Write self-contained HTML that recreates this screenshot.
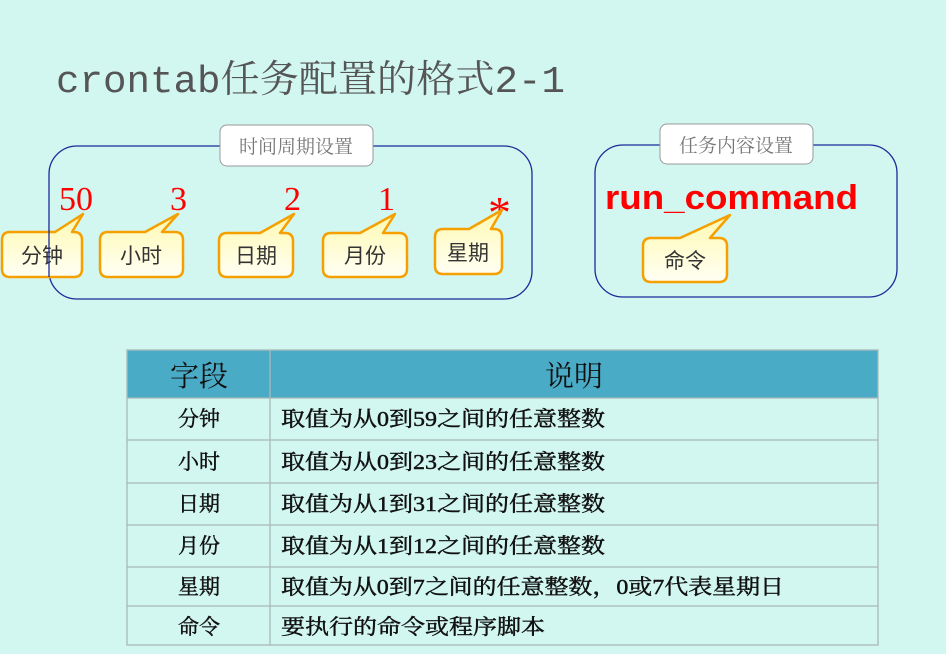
<!DOCTYPE html>
<html><head><meta charset="utf-8"><style>
body{margin:0;width:946px;height:654px;background:#d2f7f0;overflow:hidden;font-family:"Liberation Serif","Noto Serif CJK SC",serif}
svg{position:absolute;left:0;top:0}
</style></head><body>
<svg width="946" height="654" viewBox="0 0 946 654">
<defs><linearGradient id="g" x1="0" y1="0" x2="0" y2="1"><stop offset="0" stop-color="#fff9b0"/><stop offset="1" stop-color="#fffff4"/></linearGradient></defs>
<text x="56" y="92" font-size="38" fill="#555" textLength="509" lengthAdjust="spacingAndGlyphs" font-family="'Liberation Mono','Noto Serif CJK SC',monospace">crontab<tspan font-family="'Noto Serif CJK SC',serif">任务配置的格式</tspan>2-1</text>
<rect x="49" y="146" width="483" height="153" rx="28" fill="none" stroke="#1a2a99" stroke-width="1.3"/>
<rect x="220" y="125" width="153" height="41" rx="7" fill="#fff" stroke="#999"/>
<text x="296" y="153" font-size="19" fill="#777" text-anchor="middle" font-family="'Noto Serif CJK SC',serif">时间周期设置</text>
<rect x="595" y="145" width="302" height="152" rx="28" fill="none" stroke="#1a2a99" stroke-width="1.3"/>
<rect x="660" y="124" width="153" height="40" rx="7" fill="#fff" stroke="#999"/>
<text x="736" y="152" font-size="19" fill="#777" text-anchor="middle" font-family="'Noto Serif CJK SC',serif">任务内容设置</text>
<g fill="#f00" font-size="34">
<text x="59" y="210">50</text><text x="170" y="210">3</text><text x="284" y="210">2</text><text x="378" y="210">1</text><text x="488" y="228" font-size="46">*</text>
</g>
<text x="605" y="209" font-size="34" font-weight="bold" fill="#f00" textLength="253" lengthAdjust="spacingAndGlyphs" font-family="Liberation Sans,sans-serif">run_command</text>
<g stroke="#f5a000" stroke-width="2.5" fill="url(#g)" stroke-linejoin="round">
<path d="M10 232 H55 L83 214 L72 232 H74 Q82 232 82 240 V269 Q82 277 74 277 H10 Q2 277 2 269 V240 Q2 232 10 232Z"/>
<path d="M108 232 H145 L178 214 L162 232 H175 Q183 232 183 240 V269 Q183 277 175 277 H108 Q100 277 100 269 V240 Q100 232 108 232Z"/>
<path d="M227 233 H260 L294 214 L280 233 H285 Q293 233 293 241 V269 Q293 277 285 277 H227 Q219 277 219 269 V241 Q219 233 227 233Z"/>
<path d="M331 233 H360 L395 214 L383 233 H399 Q407 233 407 241 V269 Q407 277 399 277 H331 Q323 277 323 269 V241 Q323 233 331 233Z"/>
<path d="M443 229 H469 L502 210 L491 229 H494 Q502 229 502 237 V266 Q502 274 494 274 H443 Q435 274 435 266 V237 Q435 229 443 229Z"/>
<path d="M651 238 H680 L730 215 L710 238 H719 Q727 238 727 246 V274 Q727 282 719 282 H651 Q643 282 643 274 V246 Q643 238 651 238Z"/>
</g>
<g font-size="21" fill="#333" text-anchor="middle" font-family="'Noto Sans CJK SC',sans-serif">
<text x="42" y="263">分钟</text><text x="141" y="263">小时</text><text x="256" y="263">日期</text><text x="365" y="263">月份</text><text x="468" y="260">星期</text><text x="685" y="268">命令</text>
</g>
<line x1="49" y1="230" x2="49" y2="277" stroke="#1a2a99" stroke-width="1.3"/>
<rect x="127" y="350" width="751" height="48" fill="#4aabc6"/>
<g stroke="#a8b8b8" stroke-width="1.3" fill="none">
<rect x="127" y="350" width="751" height="295"/>
<line x1="270" y1="350" x2="270" y2="645"/>
<line x1="127" y1="398" x2="878" y2="398"/><line x1="127" y1="440" x2="878" y2="440"/><line x1="127" y1="483" x2="878" y2="483"/><line x1="127" y1="525" x2="878" y2="525"/><line x1="127" y1="567" x2="878" y2="567"/><line x1="127" y1="606" x2="878" y2="606"/>
</g>
<g font-size="29" fill="#111" text-anchor="middle" font-family="'Noto Serif CJK SC',serif"><text x="199" y="386">字段</text><text x="574" y="386">说明</text></g>
<g font-size="21" fill="#111" stroke="#111" stroke-width="0.45" font-family="'Liberation Serif','Noto Serif CJK SC',serif">
<g text-anchor="middle"><text x="199" y="426">分钟</text><text x="199" y="469">小时</text><text x="199" y="511">日期</text><text x="199" y="553">月份</text><text x="199" y="594">星期</text><text x="199" y="634">命令</text></g>
<text x="281" y="426" textLength="324" lengthAdjust="spacingAndGlyphs">取值为从0到59之间的任意整数</text>
<text x="281" y="469" textLength="324" lengthAdjust="spacingAndGlyphs">取值为从0到23之间的任意整数</text>
<text x="281" y="511" textLength="324" lengthAdjust="spacingAndGlyphs">取值为从1到31之间的任意整数</text>
<text x="281" y="553" textLength="324" lengthAdjust="spacingAndGlyphs">取值为从1到12之间的任意整数</text>
<text x="281" y="594" textLength="503" lengthAdjust="spacingAndGlyphs">取值为从0到7之间的任意整数，0或7代表星期日</text>
<text x="281" y="634" textLength="264" lengthAdjust="spacingAndGlyphs">要执行的命令或程序脚本</text>
</g>
</svg>
</body></html>
